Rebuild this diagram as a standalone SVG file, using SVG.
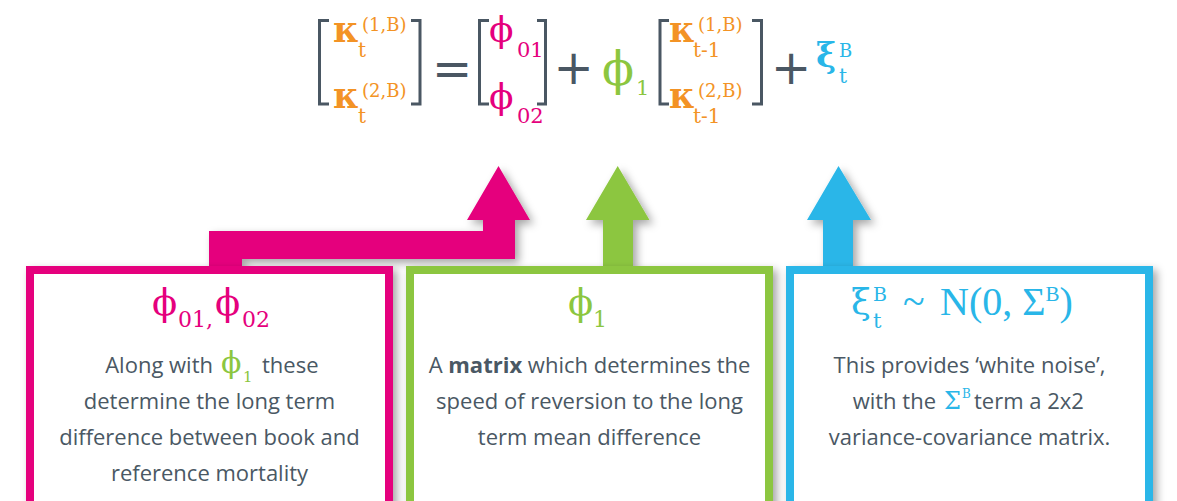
<svg xmlns="http://www.w3.org/2000/svg" width="1177" height="501" viewBox="0 0 1177 501">
<defs>
<filter id="sh" x="-20%" y="-20%" width="150%" height="150%">
<feDropShadow dx="4" dy="4" stdDeviation="4" flood-color="#000" flood-opacity="0.35"/>
</filter>
<style>
.m{font-family:"DejaVu Serif","Liberation Serif",serif}
.t{font-family:"Liberation Serif","DejaVu Serif",serif}
.k{font-family:"DejaVu Serif",serif;font-weight:bold;font-size:35px}
.op{font-family:"DejaVu Sans",sans-serif;fill:#4a5763}
.br{fill:none;stroke:#4a5763;stroke-width:3}
.or{fill:#f39325}
.pk{fill:#e5007d}
.gr{fill:#8cc63f}
.bl{fill:#29b6e8}
.body{font-family:"Open Sans","Noto Sans",sans-serif;font-size:22px;fill:#4a5864}
.box{fill:#fff;stroke-width:8}
</style>
</defs>
<rect width="1177" height="501" fill="#fff"/>

<g id="equation" class="m">
<path class="br" d="M329,20.5 H319.5 V104 H329 M411,20.5 H420 V104 H411"/>
<text class="k or" x="333" y="42">κ</text>
<text class="or" x="358" y="57" font-size="20">t</text>
<text class="or" x="362" y="31" font-size="18">(1,B)</text>
<text class="k or" x="333" y="108">κ</text>
<text class="or" x="358" y="123" font-size="20">t</text>
<text class="or" x="362" y="97" font-size="18">(2,B)</text>
<text class="op" x="452" y="85" font-size="48" text-anchor="middle">=</text>
<path class="br" d="M489,20.5 H479.5 V104 H489 M537,20.5 H545.5 V104 H537"/>
<text class="pk" x="489" y="42" font-size="36">ϕ</text>
<text class="pk" x="517" y="57" font-size="21">01</text>
<text class="pk" x="489" y="109" font-size="36">ϕ</text>
<text class="pk" x="517" y="123" font-size="21">02</text>
<text class="op" x="573.5" y="84" font-size="48" text-anchor="middle">+</text>
<text class="gr" x="602" y="85" font-size="47">ϕ</text>
<text class="gr" x="636" y="95" font-size="21">1</text>
<path class="br" d="M669,20.5 H660 V104 H669 M752,20.5 H761.5 V104 H752"/>
<text class="k or" x="669" y="42">κ</text>
<text class="or" x="693" y="57" font-size="20">t-1</text>
<text class="or" x="698" y="31" font-size="18">(1,B)</text>
<text class="k or" x="669" y="108">κ</text>
<text class="or" x="693" y="123" font-size="20">t-1</text>
<text class="or" x="698" y="97" font-size="18">(2,B)</text>
<text class="op" x="791" y="84" font-size="48" text-anchor="middle">+</text>
<text class="bl" x="816" y="67" font-size="34" font-weight="bold">ξ</text>
<text class="bl" x="839" y="57" font-size="18">B</text>
<text class="bl" x="839" y="83" font-size="20">t</text>
</g>

<g id="connectors" filter="url(#sh)">
<polygon class="pk" points="209,268 209,231 483,231 483,220 467,220 498.5,166 530,220 515,220 515,259 242,259 242,268"/>
<polygon class="gr" points="603,268 603,220 586,220 617.7,166 649.5,220 633,220 633,268"/>
<polygon class="bl" points="823,268 823,220 807,220 838.5,166 871,220 853,220 853,268"/>
</g>

<g id="box-phi0">
<rect class="box" x="30" y="270" width="359" height="260" stroke="#e5007d" filter="url(#sh)"/>
<text class="m pk" font-size="37"><tspan x="152" y="315">ϕ</tspan><tspan x="178" y="327" font-size="22">01,</tspan><tspan x="215" y="315">ϕ</tspan><tspan x="242" y="327" font-size="22">02</tspan></text>
<text class="body" x="213" y="373" text-anchor="end">Along with</text>
<text class="m gr" font-size="30"><tspan x="221" y="373">ϕ</tspan><tspan x="243" y="382" font-size="15">1</tspan></text>
<text class="body" x="262" y="373">these</text>
<text class="body" x="209.5" y="409" text-anchor="middle">determine the long term</text>
<text class="body" x="209.5" y="445" text-anchor="middle">difference between book and</text>
<text class="body" x="209.5" y="481" text-anchor="middle">reference mortality</text>
</g>

<g id="box-phi1">
<rect class="box" x="410" y="270" width="359" height="260" stroke="#8cc63f" filter="url(#sh)"/>
<text class="m gr" font-size="37"><tspan x="568" y="315">ϕ</tspan><tspan x="593" y="327" font-size="22">1</tspan></text>
<text class="body" x="589.5" y="373" text-anchor="middle">A <tspan font-weight="bold">matrix</tspan> which determines the</text>
<text class="body" x="589.5" y="409" text-anchor="middle">speed of reversion to the long</text>
<text class="body" x="589.5" y="445" text-anchor="middle">term mean difference</text>
</g>

<g id="box-xi">
<rect class="box" x="790" y="270" width="359" height="260" stroke="#29b6e8" filter="url(#sh)"/>
<text class="m bl" x="851" y="314" font-size="36">ξ</text>
<text class="m bl" x="873" y="301" font-size="19">B</text>
<text class="m bl" x="873" y="328" font-size="21">t</text>
<text class="t bl" x="903" y="315" font-size="40">~</text>
<text class="t bl" x="940" y="315" font-size="40">N(0, Σ<tspan font-size="21" dy="-14">B</tspan><tspan dy="14">)</tspan></text>
<text class="body" x="969.5" y="373" text-anchor="middle">This provides ‘white noise’,</text>
<text class="body" x="936" y="409" text-anchor="end">with the</text>
<text class="m bl" x="944" y="409" font-size="24">Σ</text>
<text class="m bl" x="962" y="398" font-size="12">B</text>
<text class="body" x="974" y="409">term a 2x2</text>
<text class="body" x="969.5" y="445" text-anchor="middle">variance-covariance matrix.</text>
</g>
</svg>
